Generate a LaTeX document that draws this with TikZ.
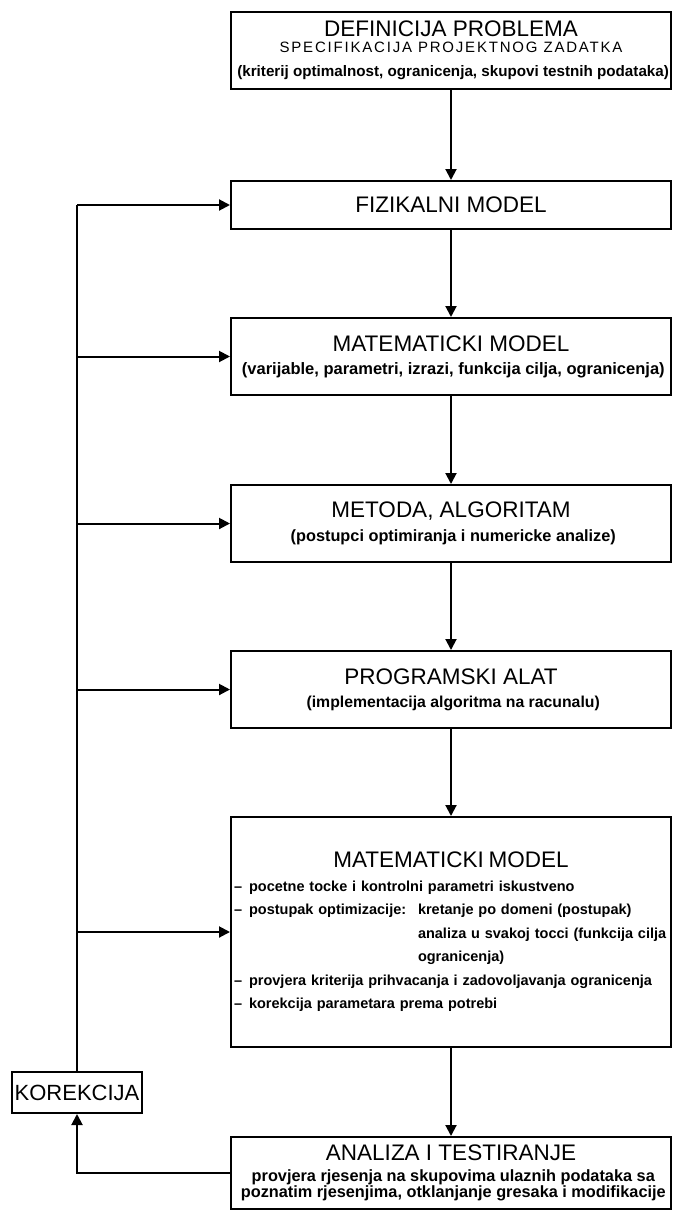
\documentclass[tikz,border=0pt]{standalone}
\usepackage{fontspec}
\setmainfont{Liberation Sans}
\usetikzlibrary{arrows.meta, positioning}

\newcommand{\headsize}{\fontsize{22.5}{22.5}\selectfont}
\newcommand{\subsize}{\fontsize{15}{15}\selectfont\addfontfeature{LetterSpace=12}}
\newcommand{\notesize}[1]{\bfseries\fontsize{#1}{#1}\selectfont}
\newcommand{\dashitem}{–\hspace{7pt}}

\begin{document}
\begin{tikzpicture}[x=1pt, y=-1pt,
	box/.style={draw, line width=2pt, rectangle, minimum width=440pt, inner xsep=1pt, inner ysep=2pt, align=center},
	flow/.style={line width=2pt, -{Triangle[length=11pt, width=11pt]}},
	wire/.style={line width=2pt}]
		\useasboundingbox (0,0) rectangle (673,1211);
		\node[box, minimum height=77pt, font=\fontsize{13}{13}\selectfont] (definicija) at (451,50.5) {{\headsize DEFINICIJA PROBLEMA}\\[3pt] {\subsize SPECIFIKACIJA PROJEKTNOG ZADATKA}\\[11pt] {\notesize{15.2} (kriterij optimalnost, ogranicenja, skupovi testnih podataka)}};
		\node[box, minimum height=48pt] (fizikalni) at (451,205) {\headsize FIZIKALNI MODEL};
		\node[box, minimum height=77pt, font=\fontsize{13}{23}\selectfont] (matematicki) at (451,356.5) {{\headsize MATEMATICKI MODEL}\\ {\notesize{16.5} (varijable, parametri, izrazi, funkcija cilja, ogranicenja)}};
		\node[box, minimum height=77pt, font=\fontsize{13}{24}\selectfont] (metoda) at (451,523.5) {{\headsize METODA, ALGORITAM}\\ {\notesize{16.3} (postupci optimiranja i numericke analize)}};
		\node[box, minimum height=77pt, font=\fontsize{13}{23}\selectfont] (programski) at (451,689.5) {{\headsize PROGRAMSKI ALAT}\\ {\notesize{15.8} (implementacija algoritma na racunalu)}};
		\node[box, minimum height=230pt, text width=434pt, align=left, font=\bfseries\fontsize{14.5}{23.5}\selectfont] (model) at (451,932) {\makebox[434pt][c]{\mdseries\headsize MATEMATICKI MODEL}\\
			\dashitem pocetne tocke i kontrolni parametri iskustveno\\
			\makebox[184pt][l]{\dashitem postupak optimizacije:}kretanje po domeni (postupak)\\
			\hspace*{184pt}analiza u svakoj tocci (funkcija cilja\\
			\hspace*{184pt}ogranicenja)\\
			\dashitem provjera kriterija prihvacanja i zadovoljavanja ogranicenja\\
			\dashitem korekcija parametara prema potrebi};
		\node[box, minimum height=72pt, font=\fontsize{13}{16}\selectfont] (analiza) at (451,1173) {{\headsize ANALIZA I TESTIRANJE}\\[5pt] {\notesize{16.3} provjera rjesenja na skupovima ulaznih podataka sa}\\ {\notesize{16.3} poznatim rjesenjima, otklanjanje gresaka i modifikacije}};
		\node[box, minimum width=130pt, minimum height=41pt, font=\fontsize{22}{22}\selectfont] (korekcija) at (77,1092.5) {KOREKCIJA};
		\draw[flow] (definicija) -- (fizikalni);
		\draw[flow] (fizikalni) -- (matematicki);
		\draw[flow] (matematicki) -- (metoda);
		\draw[flow] (metoda) -- (programski);
		\draw[flow] (programski) -- (model);
		\draw[flow] (model) -- (analiza);
		\draw[flow] (analiza.west) -| (korekcija.south);
		\draw[wire] (korekcija.north) -- (korekcija.north |- fizikalni.west);
		\draw[flow] (korekcija.north |- fizikalni.west) -- (fizikalni.west);
		\draw[flow] (korekcija.north |- matematicki.west) -- (matematicki.west);
		\draw[flow] (korekcija.north |- metoda.west) -- (metoda.west);
		\draw[flow] (korekcija.north |- programski.west) -- (programski.west);
		\draw[flow] (korekcija.north |- model.west) -- (model.west);
	\end{tikzpicture}
\end{document}
